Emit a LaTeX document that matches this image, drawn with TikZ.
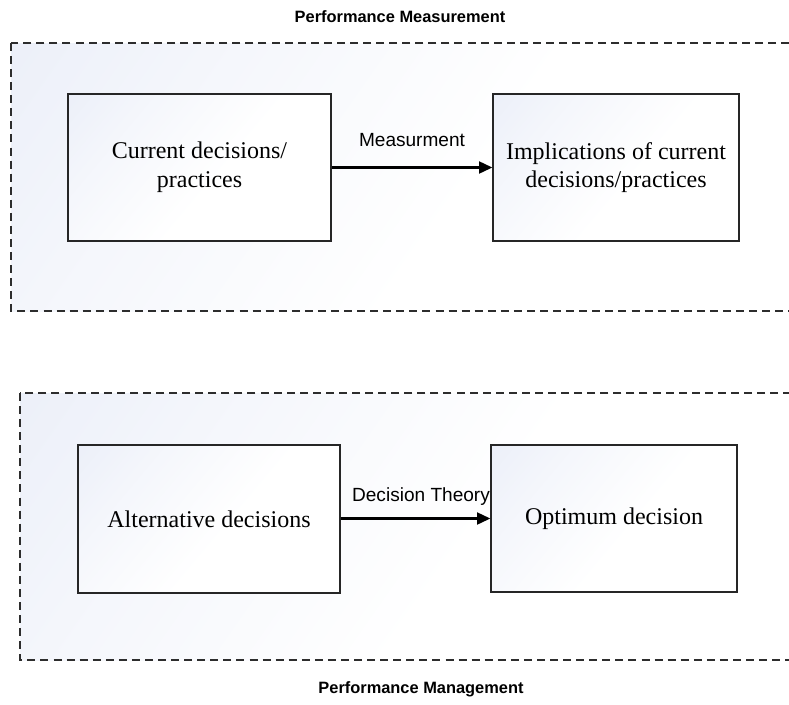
\documentclass[tikz,border=0pt]{standalone}
\usepackage{fontspec}
\setmainfont{Liberation Serif}
\setsansfont{Liberation Sans}
\usetikzlibrary{arrows.meta,shadows}
\definecolor{pmfill}{RGB}{228,233,246}
\definecolor{pmline}{RGB}{45,45,45}
\pgfdeclareverticalshading{pmshade}{100bp}{color(0bp)=(white); color(45bp)=(white); color(70bp)=(white!60!pmfill); color(100bp)=(pmfill)}
\tikzset{
  groupbox/.style={draw=pmline, line width=1pt, dash pattern=on 6pt off 3.8pt,
    shading=pmshade, shading angle=55},
  stepbox/.style={draw=black!85, line width=1pt, inner sep=0pt,
    shading=pmshade, shading angle=50,
    font=\fontsize{18}{21.5}\selectfont, align=center,
    drop shadow={shadow xshift=1.1pt, shadow yshift=-1.1pt, fill=black!35, opacity=0.7}},
  flow/.style={-{Triangle[length=10pt,width=9pt]}, line width=1.6pt, black},
  flowlabel/.style={font=\sffamily\fontsize{14.3}{17}\selectfont, inner sep=0pt},
  titlelabel/.style={font=\sffamily\bfseries\fontsize{12.3}{14}\selectfont, inner sep=0pt}
}
\begin{document}
\begin{tikzpicture}[x=0.75pt, y=-0.75pt]
\useasboundingbox (0,0) rectangle (789,704);
\clip (0,0) rectangle (789,704);
% group frames
\path[groupbox] (11,43) rectangle (805,311);
\path[groupbox] (20,393) rectangle (805,660);
% titles
\node[titlelabel] (t1) at (400,17) {Performance Measurement};
\node[titlelabel] (t2) at (421,689) {Performance Management};
% boxes
\node[stepbox, minimum width=197.25pt, minimum height=110.25pt] (cur) at (199.5,167.5) {Current decisions/\\practices};
\node[stepbox, minimum width=184.5pt, minimum height=110.25pt] (imp) at (616,167.5) {Implications of current\\decisions/practices};
\node[stepbox, minimum width=196.5pt, minimum height=111pt] (alt) at (209,519) {Alternative decisions};
\node[stepbox, minimum width=184.5pt, minimum height=110.25pt] (opt) at (614,518.5) {Optimum decision};
% connectors
\draw[flow] (cur.east) -- (imp.west);
\draw[flow] (alt.east |- opt.west) -- (opt.west);
\node[flowlabel] (lm) at (412,140) {Measurment};
\node[flowlabel] (ld) at (421,497) {Decision Theory};
\end{tikzpicture}
\end{document}
